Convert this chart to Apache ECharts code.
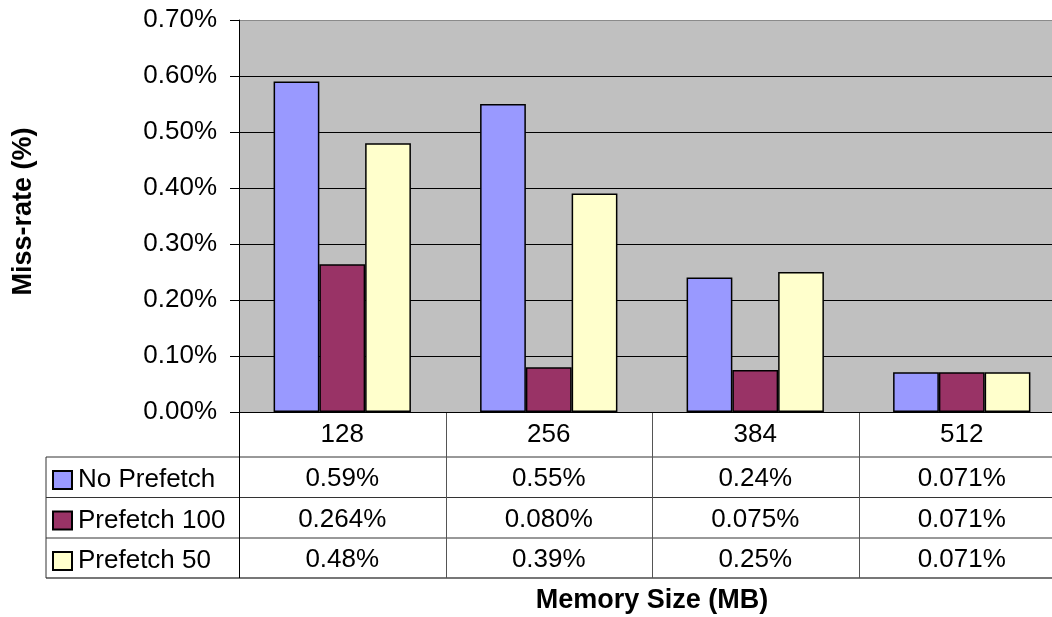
<!DOCTYPE html>
<html>
<head>
<meta charset="utf-8">
<title>Miss-rate vs Memory Size</title>
<script src="https://cdn.jsdelivr.net/npm/echarts@6/dist/echarts.min.js"></script>
<style>
  html, body { margin: 0; padding: 0; background: #fff; }
  #chart { width: 1052px; height: 617px; }
</style>
</head>
<body>
<div id="chart"></div>
<script>
// Memory sizes (MB) on the category axis
const categories = ['128', '256', '384', '512'];

// Series names (also used in the data-table legend)
const seriesNames = ['No Prefetch', 'Prefetch 100', 'Prefetch 50'];

// Miss-rate values in percent
const noPrefetch = [0.59, 0.55, 0.24, 0.071];
const prefetch100 = [0.264, 0.080, 0.075, 0.071];
const prefetch50 = [0.48, 0.39, 0.25, 0.071];

// Decimal places shown for each value in the data table
const noPrefetchDigits = [2, 2, 2, 3];
const prefetch100Digits = [3, 3, 3, 3];
const prefetch50Digits = [2, 2, 2, 3];

// Value-axis ticks (percent)
const yMin = 0, yMax = 0.7, yStep = 0.1;

const seriesValues = [noPrefetch, prefetch100, prefetch50];
const seriesDigits = [noPrefetchDigits, prefetch100Digits, prefetch50Digits];
const seriesColors = ['#9999FF', '#993366', '#FFFFCC'];

const W = 1052, H = 617;
const FONT = '"Liberation Sans", Arial, sans-serif';
const FS = 26;
const TITLE_FS = 27;

// Plot rectangle
const gridLeft = 239, gridTop = 20, gridRight = -13, gridBottomY = 412;
const gridWidth = W - gridLeft - gridRight;
const colW = gridWidth / categories.length;

// Data-table rows
const rowLines = [457, 497.5, 538, 578];
const tableLeft = 46;

const chart = echarts.init(document.getElementById('chart'), null, { renderer: 'canvas' });

const baseLabel = { fontFamily: FONT, fontSize: FS, color: '#000', lineHeight: 26 };

const xAxes = [{
  type: 'category',
  data: categories,
  position: 'bottom',
  axisLine: { show: true, lineStyle: { color: '#000', width: 1 } },
  axisTick: { show: false },
  axisLabel: Object.assign({ margin: 10, interval: 0 }, baseLabel),
  splitLine: { show: false }
}];

const rowOffsets = [44, 85, 125];
seriesValues.forEach(function (vals, s) {
  xAxes.push({
    type: 'category',
    data: categories,
    position: 'bottom',
    offset: rowOffsets[s],
    axisLine: { show: false },
    axisTick: { show: false },
    splitLine: { show: false },
    axisLabel: Object.assign({
      margin: 10,
      interval: 0,
      formatter: function (v, i) {
        return vals[i].toFixed(seriesDigits[s][i]) + '%';
      }
    }, baseLabel),
    name: s === seriesValues.length - 1 ? 'Memory Size (MB)' : '',
    nameLocation: 'middle',
    nameGap: 50,
    nameTextStyle: { fontFamily: FONT, fontSize: TITLE_FS, fontWeight: 'bold', color: '#000', lineHeight: 27 }
  });
});

// Table borders
const lineStyle = { stroke: '#333', lineWidth: 1 };
const graphics = [];
rowLines.forEach(function (y, i) {
  graphics.push({
    type: 'line', silent: true,
    shape: { x1: tableLeft, y1: y, x2: W, y2: y },
    style: i === rowLines.length - 1 ? { stroke: '#777', lineWidth: 2 } : lineStyle
  });
});
graphics.push({
  type: 'line', silent: true,
  shape: { x1: tableLeft, y1: rowLines[0], x2: tableLeft, y2: rowLines[rowLines.length - 1] },
  style: lineStyle
});
for (let i = 0; i < categories.length; i++) {
  const x = Math.round(gridLeft + i * colW) + 0.5;
  graphics.push({
    type: 'line', silent: true,
    shape: { x1: x, y1: gridBottomY, x2: x, y2: rowLines[rowLines.length - 1] },
    style: i === 0 ? { stroke: '#000', lineWidth: 1 } : { stroke: '#555', lineWidth: 1 }
  });
}

const nTicks = Math.round((yMax - yMin) / yStep) + 1;
const splitColors = [];
for (let i = 0; i < nTicks; i++) splitColors.push(i === nTicks - 1 ? '#8a8a8a' : '#000');

const option = {
  animation: false,
  backgroundColor: '#fff',
  textStyle: { fontFamily: FONT },
  grid: {
    left: gridLeft, top: gridTop, right: gridRight, bottom: H - gridBottomY,
    show: true, backgroundColor: '#C0C0C0', borderWidth: 0,
    containLabel: false,
    outerBoundsMode: 'none'
  },
  legend: {
    orient: 'vertical',
    left: 52, top: 467,
    padding: 0,
    itemWidth: 19, itemHeight: 18,
    itemGap: 14.5,
    icon: 'rect',
    data: seriesNames,
    textStyle: { fontFamily: FONT, fontSize: FS, color: '#000', lineHeight: 26, padding: [0, 0, 0, 1] },
    selectedMode: false
  },
  xAxis: xAxes,
  yAxis: {
    type: 'value',
    min: yMin, max: yMax, interval: yStep,
    axisLine: { show: true, lineStyle: { color: '#000', width: 1 } },
    axisTick: { show: true, inside: false, length: 9, lineStyle: { color: '#000' } },
    axisLabel: Object.assign({ margin: 22, formatter: function (v) { return v.toFixed(2) + '%'; } }, baseLabel),
    splitLine: { show: true, lineStyle: { color: splitColors, width: 1 } },
    name: 'Miss-rate (%)',
    nameLocation: 'middle',
    nameRotate: 90,
    nameGap: 202,
    nameTextStyle: { fontFamily: FONT, fontSize: TITLE_FS, fontWeight: 'bold', color: '#000', padding: [0, 0, 0, 9] }
  },
  series: seriesNames.map(function (name, s) {
    return {
      name: name,
      type: 'bar',
      xAxisIndex: 0,
      data: seriesValues[s],
      barGap: '0%',
      barCategoryGap: '33.5%',
      itemStyle: { color: seriesColors[s], borderColor: '#000', borderWidth: 1.5 }
    };
  }),
  graphic: graphics
};

chart.setOption(option);
</script>
</body>
</html>
